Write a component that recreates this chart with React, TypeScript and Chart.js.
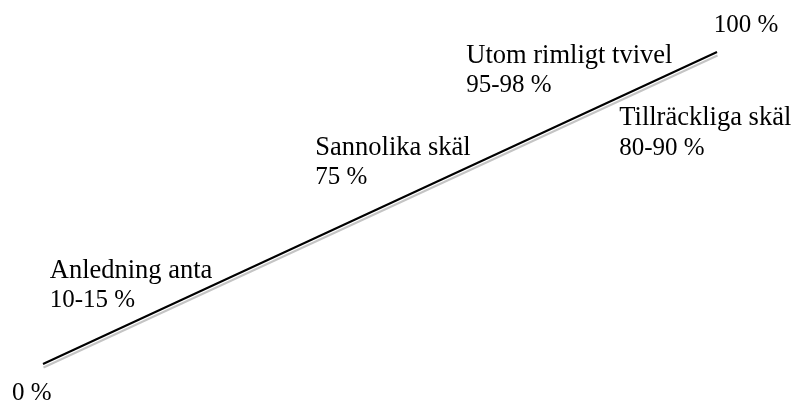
import React, { useEffect, useRef } from "react";
import { Chart, registerables } from "chart.js";

Chart.register(...registerables);

// Scale end points (probability in %)
const lineX: number[] = [0, 100];
const lineY: number[] = [0, 100];

// Annotation texts
const labelLines: string[][] = [
  ["0 %"],
  ["Anledning anta", "10-15 %"],
  ["Sannolika skäl", "75 %"],
  ["Utom rimligt tvivel", "95-98 %"],
  ["Tillräckliga skäl", "80-90 %"],
  ["100 %"],
];

// Anchor of each annotation in data space (left / first baseline)
const labelAnchorX: number[] = [-4.6, 1.0, 40.4, 62.8, 85.5, 99.5];
const labelAnchorY: number[] = [-11.5, 27.6, 67.0, 96.5, 76.6, 106.4];

const WORD_FONT = '26.5px "Liberation Serif", "Times New Roman", serif';
const NUM_FONT = '25px "Liberation Serif", "Times New Roman", serif';
const LINE_GAP = 29.5;

const shadowPlugin = {
  id: "shadowLine",
  beforeDatasetsDraw(chart: any) {
    const meta = chart.getDatasetMeta(0);
    const pts = meta.data;
    if (!pts || pts.length < 2) return;
    const ctx = chart.ctx;
    ctx.save();
    ctx.strokeStyle = "#c4c4c4";
    ctx.lineWidth = 2;
    ctx.beginPath();
    pts.forEach((p: any, i: number) => {
      const x = p.x + 0.5;
      const y = p.y + 3.5;
      if (i === 0) ctx.moveTo(x, y);
      else ctx.lineTo(x, y);
    });
    ctx.stroke();
    ctx.restore();
  },
};

const textPlugin = {
  id: "textLabels",
  afterDatasetsDraw(chart: any) {
    const ctx = chart.ctx;
    const xs = chart.scales.x;
    const ys = chart.scales.y;
    ctx.save();
    ctx.fillStyle = "#000";
    ctx.textAlign = "left";
    ctx.textBaseline = "alphabetic";
    labelLines.forEach((lines, i) => {
      const px = xs.getPixelForValue(labelAnchorX[i]);
      const py = ys.getPixelForValue(labelAnchorY[i]);
      lines.forEach((t, j) => {
        ctx.font = /[A-Za-zä]/.test(t.replace("%", "")) ? WORD_FONT : NUM_FONT;
        ctx.fillText(t, px, py + j * LINE_GAP);
      });
    });
    ctx.restore();
  },
};

export default function App() {
  const ref = useRef<HTMLCanvasElement | null>(null);
  useEffect(() => {
    if (!ref.current) return;
    const chart = new Chart(ref.current, {
      type: "scatter",
      data: {
        datasets: [
          {
            data: lineX.map((x, i) => ({ x, y: lineY[i] })),
            showLine: true,
            borderColor: "#000",
            borderWidth: 2,
            pointRadius: 0,
            clip: false as any,
          },
        ],
      },
      options: {
        animation: false,
        responsive: false,
        maintainAspectRatio: false,
        events: [],
        layout: { padding: { left: 43, right: 76, top: 52, bottom: 38 } },
        plugins: { legend: { display: false }, tooltip: { enabled: false } },
        scales: {
          x: { type: "linear", min: 0, max: 100, display: false },
          y: { type: "linear", min: 0, max: 100, display: false },
        },
      },
      plugins: [shadowPlugin, textPlugin],
    });
    return () => chart.destroy();
  }, []);
  return (
    <div style={{ position: "fixed", left: 0, top: 0, width: 793, height: 402, background: "#fff" }}>
      <canvas ref={ref} width={793} height={402} style={{ display: "block", width: 793, height: 402 }} />
    </div>
  );
}
